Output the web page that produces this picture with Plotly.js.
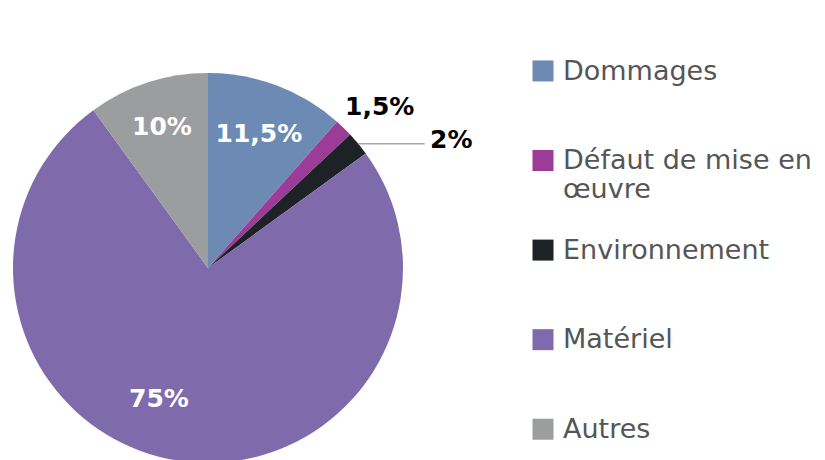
<!DOCTYPE html>
<html>
<head>
<meta charset="utf-8">
<script src="https://cdn.plot.ly/plotly-3.0.1.min.js"></script>
<style>
html,body{margin:0;padding:0;overflow:hidden;background:#fff;}
#chart{width:825px;height:480px;}
.legend path.legendpie{transform:translate(20px,0px) scale(1.75);}
</style>
</head>
<body>
<div id="chart"></div>
<script>
var categories = ["Dommages", "Défaut de mise en<br>œuvre", "Environnement", "Matériel", "Autres"];
var values = [11.5, 1.5, 2, 75, 10];
var colors = ["#6d8ab5", "#9b3d97", "#1d2226", "#7f6aac", "#9c9d9f"];
var labelText = values.map(function(v){ return String(v).replace('.', ',') + '%'; });
// which labels Plotly draws inside the slice; the others are drawn as annotations
var positions = ["inside", "none", "none", "none", "inside"];
var textColors = ["#ffffff", "#000000", "#000000", "#ffffff", "#ffffff"];

// style of the annotated labels: radius fraction along bisector, pixel shifts, leader length
var annStyle = [
  null,
  {f: 1.0, dx: 36, dy: 21, leader: 0},
  {f: 1.0, dx: 0, dy: 4, leader: 68},
  {f: 0.68, dx: -28, dy: 0, leader: 0},
  null
];

// pie geometry (pixels, layout 825x480, no margins)
var W = 825, H = 480;
var CX = 208, CY = 268, R = 195;

// legend entries: each slot is 3 lines tall (padding lines blank), last entry unpadded
var legendLabels = categories.map(function(c, i){
  var lines = c.split('<br>').map(function(t){ return '<span style="font-size:27px">' + t + '</span>'; });
  if (i < categories.length - 1) { while (lines.length < 3) lines.push('&nbsp;'); }
  return lines.join('<br>');
});

var trace = {
  type: 'pie',
  labels: legendLabels,
  values: values,
  text: labelText,
  textinfo: 'text',
  textposition: positions,
  insidetextorientation: 'horizontal',
  sort: false,
  direction: 'clockwise',
  rotation: 0,
  marker: {colors: colors, line: {width: 0}},
  textfont: {family: 'DejaVu Sans', size: 25, color: textColors, weight: 'bold'},
  domain: {x: [(CX - R)/W, (CX + R)/W], y: [(H - CY - R)/H, (H - CY + R)/H]},
  hoverinfo: 'none'
};

var total = values.reduce(function(a, b){ return a + b; }, 0);
var annotations = [];
var cum = 0;
values.forEach(function(v, i){
  var mid = (cum + v / 2) / total * 2 * Math.PI;
  cum += v;
  var s = annStyle[i];
  if (!s) return;
  var px = CX + R * s.f * Math.sin(mid);
  var py = CY - R * s.f * Math.cos(mid);
  var font = {family: 'DejaVu Sans', size: 25, color: textColors[i], weight: 'bold'};
  if (s.leader) {
    annotations.push({
      x: px / W, y: 1 - py / H, xref: 'paper', yref: 'paper', text: '',
      showarrow: true, ax: s.leader, ay: 0, arrowhead: 0, standoff: 0,
      arrowcolor: '#a6a6a6', arrowwidth: 1.5
    });
    annotations.push({
      x: (px + s.leader + 2) / W, y: 1 - py / H, xref: 'paper', yref: 'paper',
      text: labelText[i], font: font, showarrow: false,
      xanchor: 'left', yanchor: 'middle', yshift: s.dy
    });
  } else {
    annotations.push({
      x: px / W, y: 1 - py / H, xref: 'paper', yref: 'paper',
      text: labelText[i], font: font, showarrow: false,
      xanchor: 'center', yanchor: 'middle', xshift: s.dx, yshift: s.dy
    });
  }
});

var layout = {
  width: W,
  height: H,
  margin: {l: 0, r: 0, t: 0, b: 0},
  paper_bgcolor: '#ffffff',
  showlegend: true,
  annotations: annotations,
  legend: {
    x: 523/W, xanchor: 'left',
    y: 1 - 50/H, yanchor: 'top',
    valign: 'top',
    font: {family: 'DejaVu Sans', size: 22.2, color: '#555555'},
    bgcolor: 'rgba(0,0,0,0)'
  }
};

Plotly.newPlot('chart', [trace], layout, {displayModeBar: false, staticPlot: true});
</script>
</body>
</html>
